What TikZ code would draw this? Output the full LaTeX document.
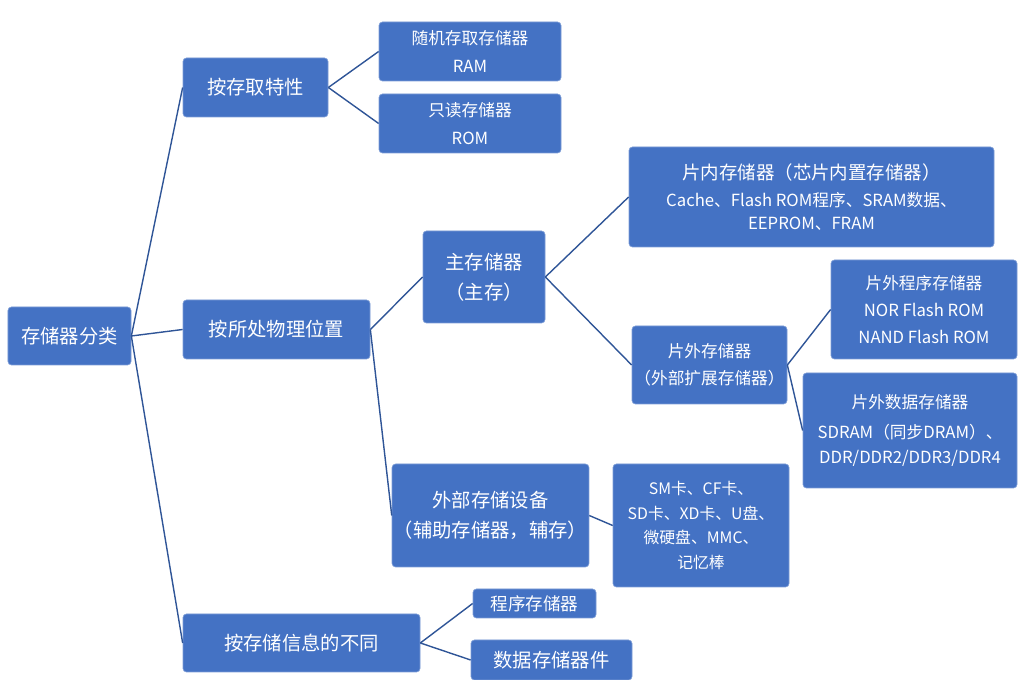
\documentclass[tikz,border=0pt]{standalone}
\usepackage{fontspec}
\setmainfont{Noto Sans CJK SC}
\definecolor{boxBlue}{HTML}{4472C4}
\definecolor{lineBlue}{HTML}{2F5597}
\usetikzlibrary{positioning}

\tikzset{
  catbox/.style={fill=boxBlue, draw=boxBlue!70!white, rounded corners=2pt, text=white,
    align=center, inner sep=1pt, font=\fontsize{11}{17}\selectfont},
  smallbox/.style={catbox, font=\fontsize{9.5}{15.5}\selectfont},
  link/.style={draw=lineBlue, line width=0.8pt}
}

\begin{document}
\begin{tikzpicture}
  \useasboundingbox (0,0) rectangle (20.48,13.6);
  % first level
  \node[catbox, minimum width=2.46cm, minimum height=1.16cm] (root) at (1.39,6.88) {存储器分类};
  \node[catbox, minimum width=2.9cm, minimum height=1.18cm] (access) at (5.11,11.85) {按存取特性};
  \node[catbox, minimum width=3.74cm, minimum height=1.18cm] (place) at (5.53,7.01) {按所处物理位置};
  \node[catbox, minimum width=4.74cm, minimum height=1.16cm] (info) at (6.03,0.74) {按存储信息的不同};
  % access branch
  \node[smallbox, minimum width=3.64cm, minimum height=1.18cm] (ram) at (9.40,12.57) {随机存取存储器\\RAM};
  \node[smallbox, minimum width=3.64cm, minimum height=1.18cm] (rom) at (9.40,11.13) {只读存储器\\ROM};
  % place branch
  \node[catbox, minimum width=2.44cm, minimum height=1.84cm] (mainmem) at (9.68,8.06) {主存储器\\（主存）};
  \node[smallbox, minimum width=7.3cm, minimum height=2.0cm, font=\fontsize{9.5}{13}\selectfont] (onchip) at (16.23,9.66)
    {\fontsize{10.5}{13}\selectfont 片内存储器（芯片内置存储器）\\[2pt]Cache、Flash ROM程序、SRAM数据、\\EEPROM、FRAM};
  \node[smallbox, minimum width=3.1cm, minimum height=1.56cm] (offchip) at (14.19,6.30) {片外存储器\\（外部扩展存储器）};
  \node[smallbox, minimum width=3.72cm, minimum height=1.98cm] (offprog) at (18.48,7.41) {片外程序存储器\\NOR Flash ROM\\NAND Flash ROM};
  \node[smallbox, minimum width=4.28cm, minimum height=2.30cm, font=\fontsize{9.5}{14}\selectfont] (offdata) at (18.20,4.99) {片外数据存储器\\[3pt]SDRAM（同步DRAM）、\\DDR/DDR2/DDR3/DDR4};
  \node[catbox, minimum width=3.86cm, minimum height=2.06cm] (extdev) at (9.81,3.29) {外部存储设备\\（辅助存储器，辅存）};
  \node[smallbox, minimum width=3.52cm, minimum height=2.46cm, font=\fontsize{9}{14}\selectfont] (cards) at (14.02,3.09) {SM卡、CF卡、\\SD卡、XD卡、U盘、\\微硬盘、MMC、\\记忆棒};
  % info branch
  \node[catbox, minimum width=2.46cm, minimum height=0.58cm, font=\fontsize{10}{12}\selectfont] (progmem) at (10.69,1.53) {程序存储器};
  \node[catbox, minimum width=3.22cm, minimum height=0.80cm] (datamem) at (11.03,0.40) {数据存储器件};
  % connectors
  \foreach \a/\b in {root/access, root/place, root/info, access/ram, access/rom,
      place/mainmem, place/extdev, mainmem/onchip, mainmem/offchip,
      offchip/offprog, offchip/offdata, extdev/cards, info/progmem, info/datamem}
    \draw[link] (\a.east) -- (\b.west);
\end{tikzpicture}
\end{document}
